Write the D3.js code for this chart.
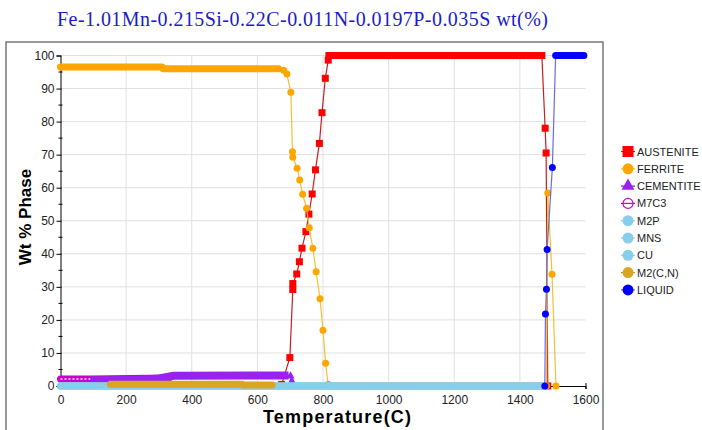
<!DOCTYPE html>
<html lang="en">
<head>
<meta charset="UTF-8">
<script src="https://d3js.org/d3.v7.min.js"></script>
<style>
  body { margin: 0; background: #fff; }
  text { font-family: "Liberation Sans", Arial, sans-serif; }
</style>
</head>
<body>
<div id="chart"></div>
<script>
// x ticks / y ticks
const xTicks = [0, 200, 400, 600, 800, 1000, 1200, 1400, 1600];
const yTicks = [0, 10, 20, 30, 40, 50, 60, 70, 80, 90, 100];
const yMinor = [5, 15, 25, 35, 45, 55, 65, 75, 85, 95];

// dense runs of markers: polylines of [temperature, wt%]
const austeniteBand = [[[818, 100], [1467, 100]]];
const austenitePts = [[674, 0.5], [699, 8.6], [708, 29.2], [708, 31.0], [720, 33.9], [728, 37.6],
  [736, 41.7], [748, 46.7], [757, 52.0], [767, 58.1], [777, 65.4], [789, 73.4], [797, 82.7],
  [807, 93.1], [816, 98.6], [1477, 78.0], [1480, 70.5], [1485, 0]];

const ferriteBand = [[[0, 96.5], [310, 96.5], [312, 96.0], [665, 96.0]], [[816, 0], [1481, 0]]];
const ferritePts = [[680, 95.5], [690, 94.4], [702, 88.9], [707, 70.9], [708, 69.2], [721, 65.9],
  [729, 62.3], [738, 58.0], [750, 53.8], [758, 47.9], [769, 41.7], [779, 34.6], [791, 26.4],
  [800, 16.9], [808, 6.9], [816, 0.5], [1485, 58.4], [1498, 33.8], [1510, 0]];

const cementiteBand = [[[92, 1.7], [250, 1.9], [300, 2.3], [345, 3.1], [695, 3.2]]];
const cementitePts = [[701, 3.0], [705, 1.5], [709, 0]];

const m7c3Band = [[[0, 2.1], [90, 2.1], [330, 2.4]]];
const m7c3Pts = [];

const m2pBand = [[[0, 0], [1470, 0]]];
const mnsBand = [[[0, 0], [1470, 0]]];
const cuBand = [[[0, 0], [1470, 0]]];

const m2cnBand = [[[152, 0.5], [555, 0.5], [557, 0.3], [645, 0.3]]];

const liquidBand = [[[1509, 100], [1595, 100]]];
const liquidPts = [[1476, 0], [1478, 21.8], [1481, 29.3], [1483, 41.3], [1499, 66.1]];

const series = [
  { name: "AUSTENITE", fill: "#ff0000", line: "#c41e1e", shape: "square", band: austeniteBand, pts: austenitePts },
  { name: "FERRITE", fill: "#ffa500", line: "#f0c232", shape: "circle", band: ferriteBand, pts: ferritePts },
  { name: "M7C3", fill: "#cc00cc", line: "#cc00cc", shape: "open", band: m7c3Band, pts: m7c3Pts },
  { name: "CEMENTITE", fill: "#9a22ee", line: "#7a1ab8", shape: "triangle", band: cementiteBand, pts: cementitePts },
  { name: "M2P", fill: "#87ceeb", line: "#87ceeb", shape: "circle", band: m2pBand, pts: [] },
  { name: "MNS", fill: "#87ceeb", line: "#87ceeb", shape: "circle", band: mnsBand, pts: [] },
  { name: "CU", fill: "#87ceeb", line: "#87ceeb", shape: "circle", band: cuBand, pts: [] },
  { name: "M2(C,N)", fill: "#daa520", line: "#c09020", shape: "circle", band: m2cnBand, pts: [] },
  { name: "LIQUID", fill: "#0000ff", line: "#6a6ae0", shape: "circle", band: liquidBand, pts: liquidPts }
];
const legendOrder = ["AUSTENITE", "FERRITE", "CEMENTITE", "M7C3", "M2P", "MNS", "CU", "M2(C,N)", "LIQUID"];

const svg = d3.select("#chart").append("svg")
  .attr("width", 702).attr("height", 430);

const x = d3.scaleLinear().domain([0, 1600]).range([60.5, 585.5]);
const y = d3.scaleLinear().domain([0, 100]).range([386, 55.5]);

// title
svg.append("text")
  .attr("x", 57).attr("y", 26)
  .attr("textLength", 491)
  .style("font-family", "'Liberation Serif', 'Times New Roman', serif")
  .style("font-size", "20px")
  .attr("fill", "#1c1cc8")
  .text("Fe-1.01Mn-0.215Si-0.22C-0.011N-0.0197P-0.035S wt(%)");

// frame
svg.append("rect")
  .attr("x", 6).attr("y", 42).attr("width", 597).attr("height", 420)
  .attr("fill", "none").attr("stroke", "#777").attr("stroke-width", 1.5);

// grid
const grid = svg.append("g");
grid.selectAll(".hg").data(yTicks.filter(d => d > 0)).enter().append("line")
  .attr("x1", x(0)).attr("x2", x(1600))
  .attr("y1", d => y(d)).attr("y2", d => y(d))
  .attr("stroke", "#e0e0e0");
grid.selectAll(".vg").data(xTicks.filter(d => d > 0 && d < 1600)).enter().append("line")
  .attr("x1", d => x(d)).attr("x2", d => x(d))
  .attr("y1", y(0)).attr("y2", y(100))
  .attr("stroke", "#e0e0e0");

// axes
const xAxis = svg.append("g")
  .attr("transform", `translate(0,${y(0)})`)
  .call(d3.axisBottom(x).tickValues(xTicks).tickFormat(d3.format("d"))
    .tickSizeOuter(0).tickSize(3).tickPadding(6));
xAxis.selectAll(".tick line").attr("y1", -3).attr("y2", 3);

const yAxis = svg.append("g")
  .attr("transform", `translate(${x(0)},0)`)
  .call(d3.axisLeft(y).tickValues(yTicks).tickSizeOuter(0).tickSize(4).tickPadding(2));
yAxis.selectAll(".tick line").attr("x2", -4).attr("x1", 1);
yAxis.selectAll(".minor").data(yMinor).enter().append("line")
  .attr("x1", -2).attr("x2", 2)
  .attr("y1", d => y(d)).attr("y2", d => y(d))
  .attr("stroke", "#000");

[xAxis, yAxis].forEach(a => {
  a.selectAll("text").style("font-size", "12px").attr("fill", "#222")
    .style("font-family", "'Liberation Sans', Arial, sans-serif");
});

// axis labels
svg.append("text")
  .attr("x", 263).attr("y", 423)
  .attr("textLength", 148)
  .style("font-size", "18px").style("font-weight", "bold")
  .text("Temperature(C)");
svg.append("text")
  .attr("transform", "translate(31,217) rotate(-90)")
  .attr("text-anchor", "middle")
  .style("font-size", "17px").style("font-weight", "bold")
  .text("Wt % Phase");

// series
const line = d3.line().x(d => x(d[0])).y(d => y(d[1]));

function marker(g, s, cx, cy, size) {
  if (s.shape === "square") {
    g.append("rect").attr("x", cx - size / 2).attr("y", cy - size / 2)
      .attr("width", size).attr("height", size).attr("fill", s.fill);
  } else if (s.shape === "triangle") {
    g.append("path").attr("transform", `translate(${cx},${cy})`)
      .attr("d", d3.symbol(d3.symbolTriangle).size(size * size * 0.6)()).attr("fill", s.fill);
  } else if (s.shape === "open") {
    g.append("circle").attr("cx", cx).attr("cy", cy).attr("r", size / 2 - 0.5)
      .attr("fill", "none").attr("stroke", s.fill).attr("stroke-width", 1.2);
  } else {
    g.append("circle").attr("cx", cx).attr("cy", cy).attr("r", size / 2).attr("fill", s.fill);
  }
}

const plot = svg.append("g");
series.forEach(s => {
  const g = plot.append("g");
  const all = s.band.flat().concat(s.pts).sort((a, b) => a[0] - b[0]);
  // thin connecting line sits under the markers
  g.append("path").attr("d", line(all)).attr("fill", "none")
    .attr("stroke", s.line).attr("stroke-width", 1.2);
  // dense marker runs
  s.band.forEach(b => {
    g.append("path").attr("d", line(b)).attr("fill", "none")
      .attr("stroke", s.fill)
      .attr("stroke-width", s.shape === "triangle" ? 8 : 7)
      .attr("stroke-linecap", s.shape === "square" ? "square" : (s.shape === "triangle" ? "butt" : "round"))
      .attr("stroke-linejoin", "round");
    if (s.shape === "open") {
      g.append("path").attr("d", line(b)).attr("fill", "none")
        .attr("stroke", "#fff").attr("stroke-width", 1.5)
        .attr("stroke-dasharray", "2,2");
    }
  });
  s.pts.forEach(p => marker(g, s, x(p[0]), y(p[1]), 7));
});

// legend
const leg = svg.append("g");
legendOrder.forEach((name, i) => {
  const s = series.find(d => d.name === name);
  const cy = 151.5 + i * 17.3;
  const row = leg.append("g");
  row.append("line").attr("x1", 621).attr("x2", 635).attr("y1", cy).attr("y2", cy)
    .attr("stroke", s.line).attr("stroke-width", 1.2);
  marker(row, s, 628, cy, 11);
  row.append("text").attr("x", 637).attr("y", cy + 4)
    .style("font-size", "11px").attr("fill", "#222").text(name);
});
</script>
</body>
</html>
